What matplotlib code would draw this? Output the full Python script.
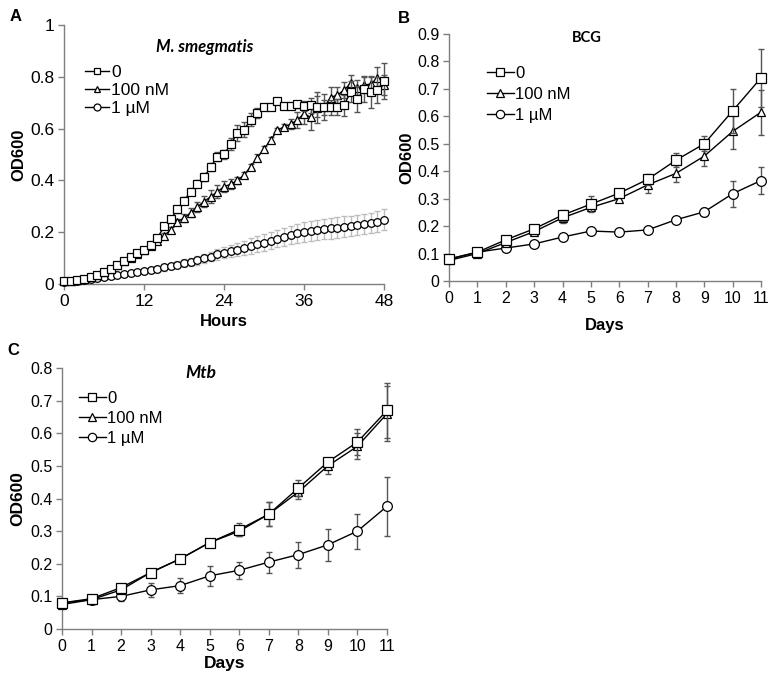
import matplotlib
matplotlib.use("Agg")
import matplotlib.pyplot as plt
from matplotlib.lines import Line2D

plt.rcParams['font.family'] = ['Liberation Sans', 'DejaVu Sans']

# ---------------- Panel A data (M. smegmatis, hours) ----------------
hours = list(range(49))
a_ctrl = [0.010, 0.012, 0.015, 0.020, 0.027, 0.035, 0.045, 0.058, 0.072, 0.088,
          0.103, 0.118, 0.133, 0.152, 0.177, 0.222, 0.250, 0.288, 0.322, 0.357,
          0.387, 0.412, 0.452, 0.492, 0.500, 0.540, 0.582, 0.596, 0.634, 0.660,
          0.682, 0.682, 0.706, 0.688, 0.686, 0.694, 0.686, 0.690, 0.684, 0.682,
          0.682, 0.684, 0.690, 0.742, 0.714, 0.752, 0.740, 0.750, 0.785]
a_ctrl_err = [0.004, 0.004, 0.004, 0.004, 0.004, 0.005, 0.005, 0.005, 0.005, 0.006,
              0.006, 0.007, 0.008, 0.009, 0.010, 0.010, 0.012, 0.012, 0.012, 0.014,
              0.014, 0.015, 0.016, 0.018, 0.018, 0.022, 0.030, 0.030, 0.025, 0.020,
              0.012, 0.012, 0.010, 0.012, 0.012, 0.014, 0.020, 0.030, 0.040, 0.030,
              0.030, 0.030, 0.040, 0.040, 0.050, 0.050, 0.060, 0.050, 0.070]
a_100 = [0.010, 0.012, 0.016, 0.021, 0.027, 0.035, 0.045, 0.058, 0.072, 0.087,
         0.102, 0.117, 0.132, 0.148, 0.165, 0.187, 0.208, 0.240, 0.255, 0.275,
         0.298, 0.318, 0.337, 0.356, 0.376, 0.385, 0.400, 0.420, 0.453, 0.488,
         0.522, 0.556, 0.593, 0.607, 0.617, 0.633, 0.658, 0.643, 0.680, 0.682,
         0.720, 0.730, 0.748, 0.775, 0.756, 0.768, 0.772, 0.794, 0.768]
a_100_err = [0.004, 0.004, 0.004, 0.004, 0.004, 0.005, 0.005, 0.005, 0.005, 0.006,
             0.006, 0.007, 0.008, 0.009, 0.010, 0.010, 0.012, 0.012, 0.015, 0.018,
             0.020, 0.022, 0.025, 0.025, 0.022, 0.020, 0.015, 0.012, 0.012, 0.012,
             0.010, 0.010, 0.010, 0.012, 0.020, 0.030, 0.040, 0.050, 0.060, 0.050,
             0.040, 0.030, 0.030, 0.030, 0.030, 0.030, 0.030, 0.045, 0.040]
a_1u = [0.008, 0.010, 0.013, 0.016, 0.020, 0.023, 0.026, 0.030, 0.033, 0.037,
        0.041, 0.045, 0.049, 0.054, 0.059, 0.064, 0.070, 0.075, 0.080, 0.086,
        0.092, 0.099, 0.106, 0.114, 0.121, 0.127, 0.133, 0.139, 0.146, 0.153,
        0.160, 0.167, 0.175, 0.182, 0.189, 0.196, 0.202, 0.205, 0.209, 0.212,
        0.215, 0.218, 0.221, 0.224, 0.228, 0.232, 0.236, 0.240, 0.248]
a_1u_err = [0.003, 0.003, 0.003, 0.003, 0.004, 0.004, 0.005, 0.005, 0.006, 0.006,
            0.007, 0.008, 0.009, 0.010, 0.011, 0.012, 0.013, 0.014, 0.015, 0.016,
            0.017, 0.018, 0.019, 0.020, 0.022, 0.024, 0.026, 0.028, 0.030, 0.031,
            0.032, 0.033, 0.034, 0.035, 0.036, 0.037, 0.038, 0.039, 0.040, 0.040,
            0.040, 0.040, 0.040, 0.040, 0.040, 0.040, 0.040, 0.040, 0.040]

# ---------------- Panel B data (BCG, days) ----------------
days = list(range(12))
b_ctrl = [0.080, 0.105, 0.150, 0.190, 0.240, 0.280, 0.320, 0.370, 0.440, 0.500, 0.620, 0.740]
b_ctrl_err = [0.008, 0.006, 0.010, 0.012, 0.020, 0.028, 0.012, 0.020, 0.025, 0.028, 0.080, 0.105]
b_100 = [0.075, 0.100, 0.140, 0.180, 0.230, 0.268, 0.300, 0.350, 0.392, 0.455, 0.545, 0.615]
b_100_err = [0.006, 0.005, 0.010, 0.012, 0.020, 0.010, 0.010, 0.030, 0.030, 0.035, 0.065, 0.082]
b_1u = [0.080, 0.105, 0.120, 0.135, 0.160, 0.182, 0.178, 0.186, 0.223, 0.252, 0.318, 0.366]
b_1u_err = [0.006, 0.005, 0.005, 0.004, 0.004, 0.004, 0.004, 0.004, 0.008, 0.015, 0.047, 0.049]

# ---------------- Panel C data (Mtb, days) ----------------
c_ctrl = [0.080, 0.093, 0.127, 0.173, 0.215, 0.265, 0.305, 0.352, 0.432, 0.512, 0.573, 0.670]
c_ctrl_err = [0.008, 0.012, 0.012, 0.008, 0.008, 0.008, 0.020, 0.037, 0.025, 0.012, 0.040, 0.083]
c_100 = [0.075, 0.090, 0.120, 0.173, 0.215, 0.265, 0.300, 0.352, 0.420, 0.500, 0.560, 0.660]
c_100_err = [0.006, 0.010, 0.010, 0.006, 0.006, 0.006, 0.015, 0.037, 0.022, 0.025, 0.040, 0.085]
c_1u = [0.080, 0.090, 0.100, 0.120, 0.133, 0.163, 0.180, 0.205, 0.228, 0.258, 0.300, 0.376]
c_1u_err = [0.006, 0.008, 0.015, 0.022, 0.023, 0.030, 0.026, 0.032, 0.040, 0.050, 0.054, 0.090]

series_labels = ['0', '100 nM', '1 µM']
markers = ['s', '^', 'o']

a_xticks = [0, 12, 24, 36, 48]
a_yticks = [0, 0.2, 0.4, 0.6, 0.8, 1.0]
a_yticklabels = ['0', '0.2', '0.4', '0.6', '0.8', '1']
b_yticks = [0, 0.1, 0.2, 0.3, 0.4, 0.5, 0.6, 0.7, 0.8, 0.9]
b_yticklabels = ['0', '0.1', '0.2', '0.3', '0.4', '0.5', '0.6', '0.7', '0.8', '0.9']
c_yticks = [0, 0.1, 0.2, 0.3, 0.4, 0.5, 0.6, 0.7, 0.8]
c_yticklabels = ['0', '0.1', '0.2', '0.3', '0.4', '0.5', '0.6', '0.7', '0.8']

SPINE = '#7f7f7f'
ERR_DARK = '#555555'
ERR_LIGHT = '#bdbdbd'

fig = plt.figure(figsize=(7.73, 6.77), dpi=100)

def style_axes(ax, tick_fs):
    for s in ['top', 'right']:
        ax.spines[s].set_visible(False)
    for s in ['left', 'bottom']:
        ax.spines[s].set_color(SPINE)
        ax.spines[s].set_linewidth(1.0)
    ax.tick_params(direction='out', length=4, width=1, color=SPINE,
                   labelsize=tick_fs, pad=3)

def draw_series(ax, x, y, err, marker, ms, ecolor, z, cap=2.5):
    ax.errorbar(x, y, yerr=err, fmt='none', ecolor=ecolor, elinewidth=1.0,
                capsize=cap, capthick=1.0, zorder=z, clip_on=False)
    ax.plot(x, y, color='black', lw=1.0, marker=marker, ms=ms,
            mfc='white', mec='black', mew=0.9, zorder=z + 1, clip_on=False)

def add_legend(ax, ms, fs, anchor, spacing, hlen):
    handles = [Line2D([], [], color='black', lw=1.0, marker=m, ms=ms,
                      mfc='white', mec='black', mew=0.9) for m in markers]
    ax.legend(handles, series_labels, loc='upper left', bbox_to_anchor=anchor,
              frameon=False, fontsize=fs, handlelength=hlen, handletextpad=0.1,
              labelspacing=spacing, borderaxespad=0, borderpad=0, numpoints=1)

# ---------- Panel A ----------
axA = fig.add_axes([0.0828, 0.5805, 0.414, 0.3826])
style_axes(axA, 12.5)
draw_series(axA, hours, a_1u, a_1u_err, 'o', 5.5, ERR_LIGHT, 2, cap=2)
draw_series(axA, hours, a_100, a_100_err, '^', 5.5, ERR_DARK, 4, cap=2)
draw_series(axA, hours, a_ctrl, a_ctrl_err, 's', 5.5, ERR_DARK, 6, cap=2)
axA.set_xlim(0, 48)
axA.set_ylim(0, 1)
axA.set_xticks(a_xticks)
axA.set_yticks(a_yticks)
axA.set_yticklabels(a_yticklabels)
axA.set_xlabel('Hours', fontsize=12, fontweight='bold', labelpad=3.5)
axA.set_ylabel('OD600', fontsize=12, fontweight='bold', labelpad=3)
axA.text(0.44, 0.915, 'M. smegmatis', transform=axA.transAxes, ha='center',
         va='center', fontsize=12, fontweight='bold', style='italic',
         family=['Lato', 'DejaVu Sans'])
add_legend(axA, 5, 12.5, (0.066, 0.845), 0.15, 1.4)

# ---------- Panel B ----------
axB = fig.add_axes([0.581, 0.585, 0.4035, 0.3648])
style_axes(axB, 11.5)
draw_series(axB, days, b_1u, b_1u_err, 'o', 7, ERR_DARK, 2)
draw_series(axB, days, b_100, b_100_err, '^', 6, ERR_DARK, 4)
draw_series(axB, days, b_ctrl, b_ctrl_err, 's', 6.5, ERR_DARK, 6)
axB.set_xlim(0, 11)
axB.set_ylim(0, 0.9)
axB.set_xticks(days)
axB.set_yticks(b_yticks)
axB.set_yticklabels(b_yticklabels)
axB.set_xlabel('Days', fontsize=12, fontweight='bold', labelpad=9)
axB.set_ylabel('OD600', fontsize=12, fontweight='bold', labelpad=2)
axB.text(0.44, 0.985, 'BCG', transform=axB.transAxes, ha='center',
         va='center', fontsize=10.5, fontweight='bold',
         family=['Lato', 'DejaVu Sans'])
add_legend(axB, 6, 12, (0.122, 0.87), 0.35, 1.6)

# ---------- Panel C ----------
axC = fig.add_axes([0.0802, 0.0709, 0.4204, 0.3855])
style_axes(axC, 11.5)
draw_series(axC, days, c_1u, c_1u_err, 'o', 7, ERR_DARK, 2)
draw_series(axC, days, c_100, c_100_err, '^', 6, ERR_DARK, 4)
draw_series(axC, days, c_ctrl, c_ctrl_err, 's', 6.5, ERR_DARK, 6)
axC.set_xlim(0, 11)
axC.set_ylim(0, 0.8)
axC.set_xticks(days)
axC.set_yticks(c_yticks)
axC.set_yticklabels(c_yticklabels)
axC.set_xlabel('Days', fontsize=12.5, fontweight='bold', labelpad=1.5)
axC.set_ylabel('OD600', fontsize=12.5, fontweight='bold', labelpad=3)
axC.text(0.428, 0.98, 'Mtb', transform=axC.transAxes, ha='center',
         va='center', fontsize=12.5, fontweight='bold', style='italic',
         family=['Lato', 'DejaVu Sans'])
add_legend(axC, 6, 12, (0.052, 0.912), 0.3, 1.6)

# Panel letters
fig.text(0.013, 0.987, 'A', fontsize=12, fontweight='bold', va='top')
fig.text(0.515, 0.984, 'B', fontsize=12, fontweight='bold', va='top')
fig.text(0.010, 0.494, 'C', fontsize=12, fontweight='bold', va='top')

fig.savefig('out.png', dpi=100)
